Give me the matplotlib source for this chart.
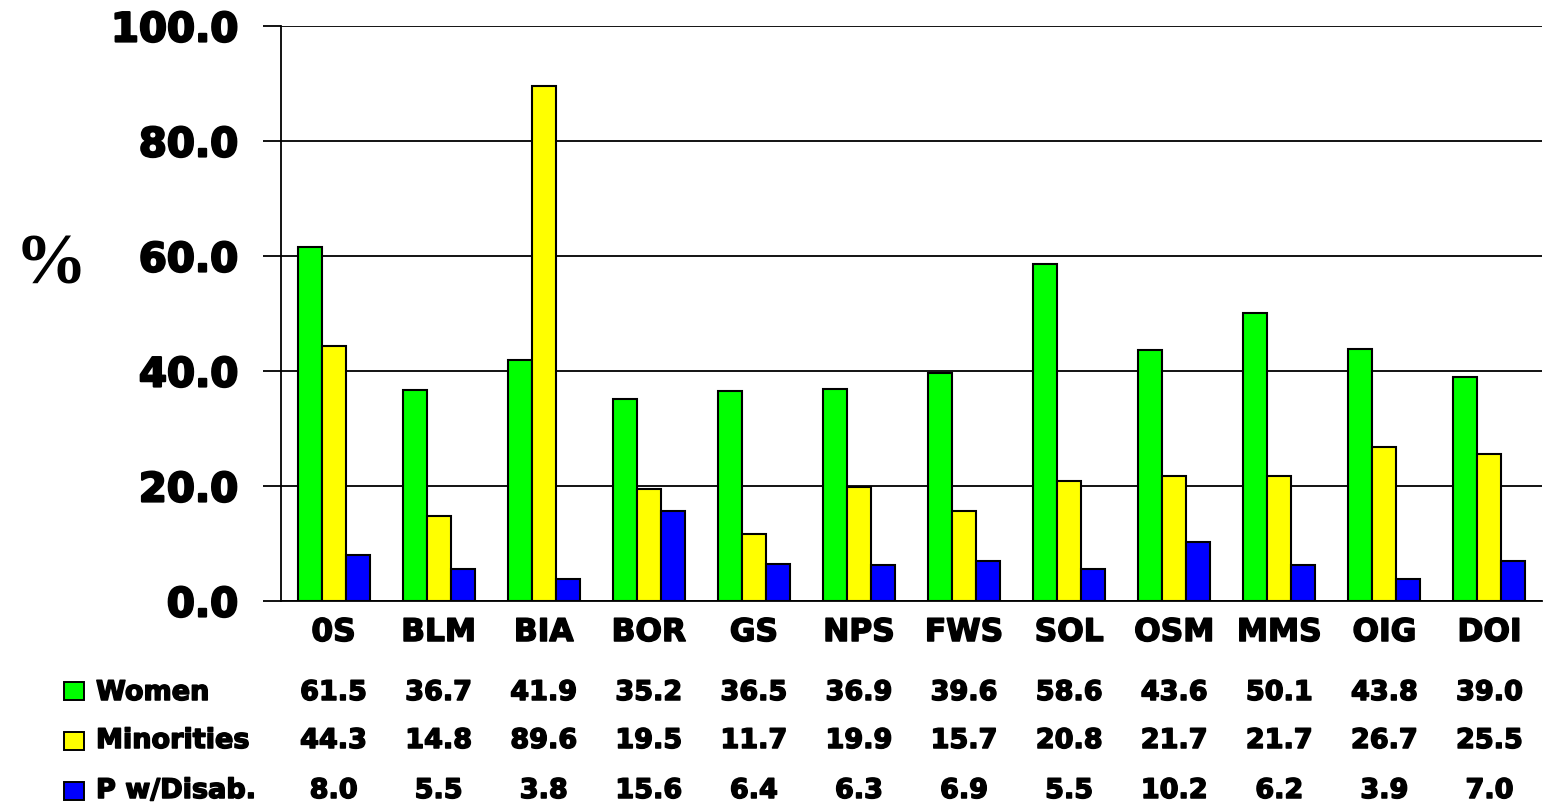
import numpy as np
import matplotlib
matplotlib.use("Agg")
import matplotlib.pyplot as plt
import matplotlib.patheffects as pe
from matplotlib.patches import Rectangle
from matplotlib.transforms import blended_transform_factory

categories = ["0S", "BLM", "BIA", "BOR", "GS", "NPS", "FWS", "SOL", "OSM", "MMS", "OIG", "DOI"]
women = [61.5, 36.7, 41.9, 35.2, 36.5, 36.9, 39.6, 58.6, 43.6, 50.1, 43.8, 39.0]
minorities = [44.3, 14.8, 89.6, 19.5, 11.7, 19.9, 15.7, 20.8, 21.7, 21.7, 26.7, 25.5]
disab = [8.0, 5.5, 3.8, 15.6, 6.4, 6.3, 6.9, 5.5, 10.2, 6.2, 3.9, 7.0]
series_names = ["Women", "Minorities", "P w/Disab."]
series_colors = ["#00FF00", "#FFFF00", "#0000FF"]
yticks = [0, 20, 40, 60, 80, 100]

W, H = 1543, 805
fig = plt.figure(figsize=(W / 100, H / 100), dpi=100)
ax = fig.add_axes([281 / W, 1 - 601 / H, (1542 - 281) / W, (601 - 26) / H])

FONT = "DejaVu Sans"
heavy_l = [pe.withStroke(linewidth=1.6, foreground="black")]
heavy_s = [pe.withStroke(linewidth=1.1, foreground="black")]

x = np.arange(len(categories))
bw = 0.2285
for k, (vals, col) in enumerate(zip([women, minorities, disab], series_colors)):
    ax.bar(x + (k - 1) * bw, vals, width=bw, color=col, edgecolor="black",
           linewidth=1.5, zorder=3)

ax.set_xlim(-0.5, len(categories) - 0.5)
ax.set_ylim(0, 100)
ax.set_yticks(yticks)
ax.set_yticklabels([f"{v:.1f}" for v in yticks], fontfamily=FONT,
                   fontweight="bold", fontsize=29)
for lab in ax.get_yticklabels():
    lab.set_path_effects(heavy_l)
ax.tick_params(axis="y", direction="out", length=13, width=1.3, pad=18,
               color="black")
ax.set_xticks([])
ax.yaxis.grid(True, color="black", linewidth=1.3)
ax.set_axisbelow(True)
for s in ["top", "right"]:
    ax.spines[s].set_visible(False)
for s in ["left", "bottom"]:
    ax.spines[s].set_linewidth(1.3)
    ax.spines[s].set_color("black")

# "%" axis label
fig.text(15 / W, 1 - 283 / H, "%", fontfamily="Liberation Serif",
         fontweight="bold", fontsize=52, ha="left", va="baseline")

trans = blended_transform_factory(ax.transData, fig.transFigure)
# category labels
for i, c in enumerate(categories):
    ax.text(i, 1 - 641 / H, c, transform=trans, ha="center", va="baseline",
            fontfamily=FONT, fontweight="bold", fontsize=22.5,
            path_effects=heavy_s)

# data table
row_base = [700, 748, 798]
sq_top = [682, 732, 782]
for r, (name, col, vals) in enumerate(zip(series_names, series_colors,
                                            [women, minorities, disab])):
    fig.patches.append(Rectangle((64 / W, 1 - (sq_top[r] + 18) / H), 20 / W, 18 / H,
                                 transform=fig.transFigure, facecolor=col,
                                 edgecolor="black", linewidth=1.4))
    fig.text(96 / W, 1 - row_base[r] / H, name, ha="left", va="baseline",
             fontfamily=FONT, fontweight="bold", fontsize=19.5,
             path_effects=heavy_s)
    for i, v in enumerate(vals):
        ax.text(i, 1 - row_base[r] / H, f"{v:.1f}", transform=trans,
                ha="center", va="baseline", fontfamily=FONT,
                fontweight="bold", fontsize=19.5, path_effects=heavy_s)

fig.savefig("out.png", dpi=100, facecolor="white")
